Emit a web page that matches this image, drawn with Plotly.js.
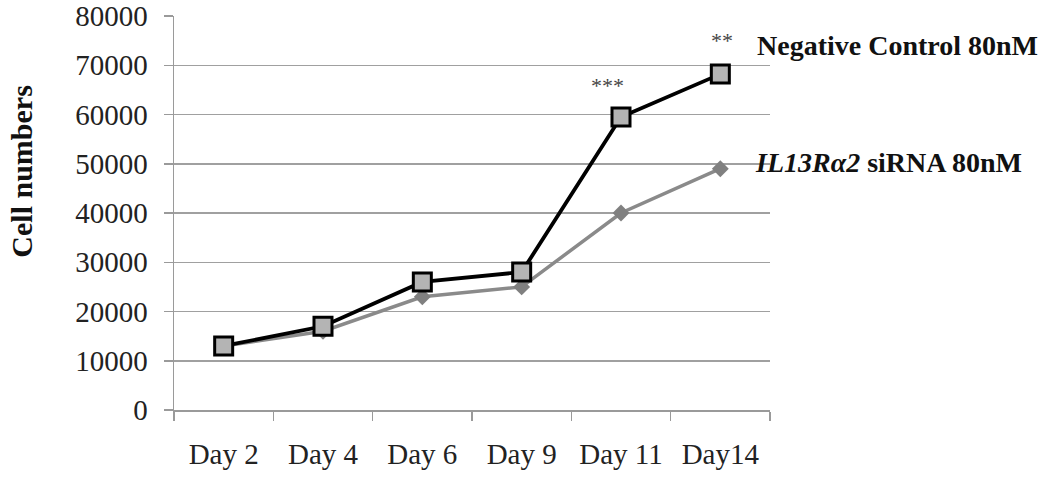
<!DOCTYPE html>
<html><head><meta charset="utf-8">
<script src="https://cdn.plot.ly/plotly-3.0.1.min.js"></script>
<style>html,body{margin:0;padding:0;background:#fff}#chart{width:1050px;height:478px}</style>
</head><body><div id="chart"></div>
<script>
const days = ["Day 2", "Day 4", "Day 6", "Day 9", "Day 11", "Day14"];
const negativeControl = [13000, 17000, 26000, 28000, 59500, 68200];
const il13siRNA = [13000, 16000, 23000, 25000, 40000, 49000];
const yTicks = [0, 10000, 20000, 30000, 40000, 50000, 60000, 70000, 80000];
const seriesNames = ["Negative Control 80nM", "<i>IL13R\u03b12</i> siRNA 80nM"];
const stars = [{day: "Day 11", text: "***", y: 65800}, {day: "Day14", text: "**", y: 75100}];
const labelY = [74000, 50200];

const font = "'Liberation Serif', 'Times New Roman', serif";

const traces = [
  {x: days, y: il13siRNA, type: "scatter", mode: "lines+markers", name: seriesNames[1],
   line: {color: "#8a8a8a", width: 3.5},
   marker: {symbol: "diamond", size: 13, color: "#808080", line: {width: 0}}},
  {x: days, y: negativeControl, type: "scatter", mode: "lines+markers", name: seriesNames[0],
   line: {color: "#000", width: 3.8},
   marker: {symbol: "square", size: 18, color: "#b4b4b4", line: {color: "#000", width: 3}}}
];

const annotations = [
  {xref: "paper", yref: "y", x: 0.975, y: labelY[0], xanchor: "left", yanchor: "middle",
   text: "<b>" + seriesNames[0] + "</b>", showarrow: false, font: {family: font, size: 28, color: "#111"}},
  {xref: "paper", yref: "y", x: 0.972, y: labelY[1], xanchor: "left", yanchor: "middle",
   text: "<b>" + seriesNames[1] + "</b>", showarrow: false, font: {family: font, size: 28, color: "#111"}},
  {xref: "paper", yref: "paper", x: -0.255, y: 0.605, xanchor: "center", yanchor: "middle", textangle: -90,
   text: "<b>Cell numbers</b>", showarrow: false, font: {family: font, size: 30, color: "#111"}}
];
stars.forEach(s => annotations.push({x: s.day, y: s.y, xref: "x", yref: "y", text: s.text, showarrow: false,
  xshift: s.text.length === 3 ? -14 : 2,
  font: {family: font, size: 22, color: "#444"}, yanchor: "middle"}));

const layout = {
  width: 1050, height: 478,
  margin: {l: 174, r: 280, t: 16, b: 68},
  paper_bgcolor: "#fff", plot_bgcolor: "#fff",
  showlegend: false,
  font: {family: font, color: "#222"},
  xaxis: {type: "category", categoryorder: "array", categoryarray: days, range: [-0.5, 5.5],
    showgrid: false, zeroline: false, showline: true, linecolor: "#9a9a9a", linewidth: 1.5,
    ticks: "outside", tickson: "boundaries", ticklen: 9, tickcolor: "#9a9a9a", tickwidth: 1.5,
    ticklabelstandoff: 18,
    tickfont: {family: font, size: 29, color: "#222"}},
  yaxis: {range: [0, 80000], tickvals: yTicks, ticktext: yTicks.map(String),
    showgrid: true, gridcolor: "#a0a0a0", gridwidth: 1.5, zeroline: false,
    showline: true, linecolor: "#9a9a9a", linewidth: 1.5,
    ticks: "outside", ticklen: 9, tickcolor: "#9a9a9a", tickwidth: 1.5,
    ticklabelstandoff: 10,
    tickfont: {family: font, size: 29, color: "#222"}},
  annotations: annotations
};

Plotly.newPlot("chart", traces, layout, {displayModeBar: false, staticPlot: true});
</script></body></html>
